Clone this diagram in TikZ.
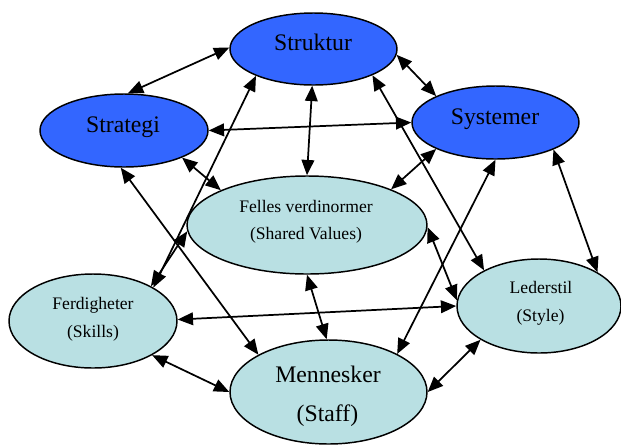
\documentclass[tikz,border=0pt]{standalone}
\usepackage{fontspec}
\setmainfont{Liberation Serif}
\usetikzlibrary{shapes.geometric,arrows.meta}
\definecolor{topblue}{RGB}{51,102,255}
\definecolor{lowcyan}{RGB}{185,224,227}
\tikzset{
  ell/.style={ellipse, draw=black, line width=1.1pt, inner sep=0pt},
  topell/.style={ell, fill=topblue},
  lowell/.style={ell, fill=lowcyan},
  bigtxt/.style={anchor=base, inner sep=0pt, font=\fontsize{17.8}{20}\selectfont},
  smalltxt/.style={anchor=base, inner sep=0pt, font=\fontsize{13.2}{15}\selectfont},
  link/.style={line width=1.3pt, {Triangle[length=11.5pt,width=9.5pt]}-{Triangle[length=11.5pt,width=9.5pt]}},
}
\begin{document}
\begin{tikzpicture}[x=0.75pt,y=-0.75pt]
\useasboundingbox (0,0) rectangle (621,444);
% ellipses
\node[topell, minimum width=125.25pt, minimum height=54pt] (S) at (313.5,49) {};
\node[topell, minimum width=126pt, minimum height=54.75pt] (G) at (124,130.5) {};
\node[topell, minimum width=125.25pt, minimum height=54.75pt] (Y) at (495.5,122.5) {};
\node[lowell, minimum width=180pt, minimum height=73.5pt] (F) at (307,225) {};
\node[lowell, minimum width=126pt, minimum height=70.5pt] (K) at (93,321) {};
\node[lowell, minimum width=147.75pt, minimum height=78pt] (M) at (328.5,392) {};
\node[lowell, minimum width=123pt, minimum height=70.5pt] (L) at (539,306) {};
% texts
\node[bigtxt] (St) at (313,50) {Struktur};
\node[bigtxt] (Gt) at (123,132) {Strategi};
\node[bigtxt] (Yt) at (495,124) {Systemer};
\node[smalltxt] (Ft1) at (306,212) {Felles verdinormer};
\node[smalltxt] (Ft2) at (306,239) {(Shared Values)};
\node[smalltxt] (Kt1) at (93,309) {Ferdigheter};
\node[smalltxt] (Kt2) at (93,337) {(Skills)};
\node[smalltxt] (Lt1) at (541,293) {Lederstil};
\node[smalltxt] (Lt2) at (540.5,321.5) {(Style)};
\node[bigtxt] (Mt1) at (328,382) {Mennesker};
\node[bigtxt] (Mt2) at (327.5,421) {(Staff)};
% connectors
\draw[link] (G.84) -- (S.179);
\draw[link] (S.-4) -- (Y.156);
\draw[link] (Y.180) -- (G.0);
\draw[link] (S.268) -- (F.90);
\draw[link] (G.-25) -- (F.158);
\draw[link] (Y.204) -- (F.23);
\draw[link] (K.29) -- (S.205);
\draw[link] (K.31) -- (F.183);
\draw[link] (G.265) -- (M.152);
\draw[link] (K.330) -- (M.180);
\draw[link] (K.1) -- (L.180);
\draw[link] (F.270) -- (M.92);
\draw[link] (F.359) -- (L.176);
\draw[link] (S.336) -- (L.147);
\draw[link] (Y.270) -- (M.29);
\draw[link] (Y.335) -- (L.30);
\draw[link] (M.0) -- (L.210);
\end{tikzpicture}
\end{document}
